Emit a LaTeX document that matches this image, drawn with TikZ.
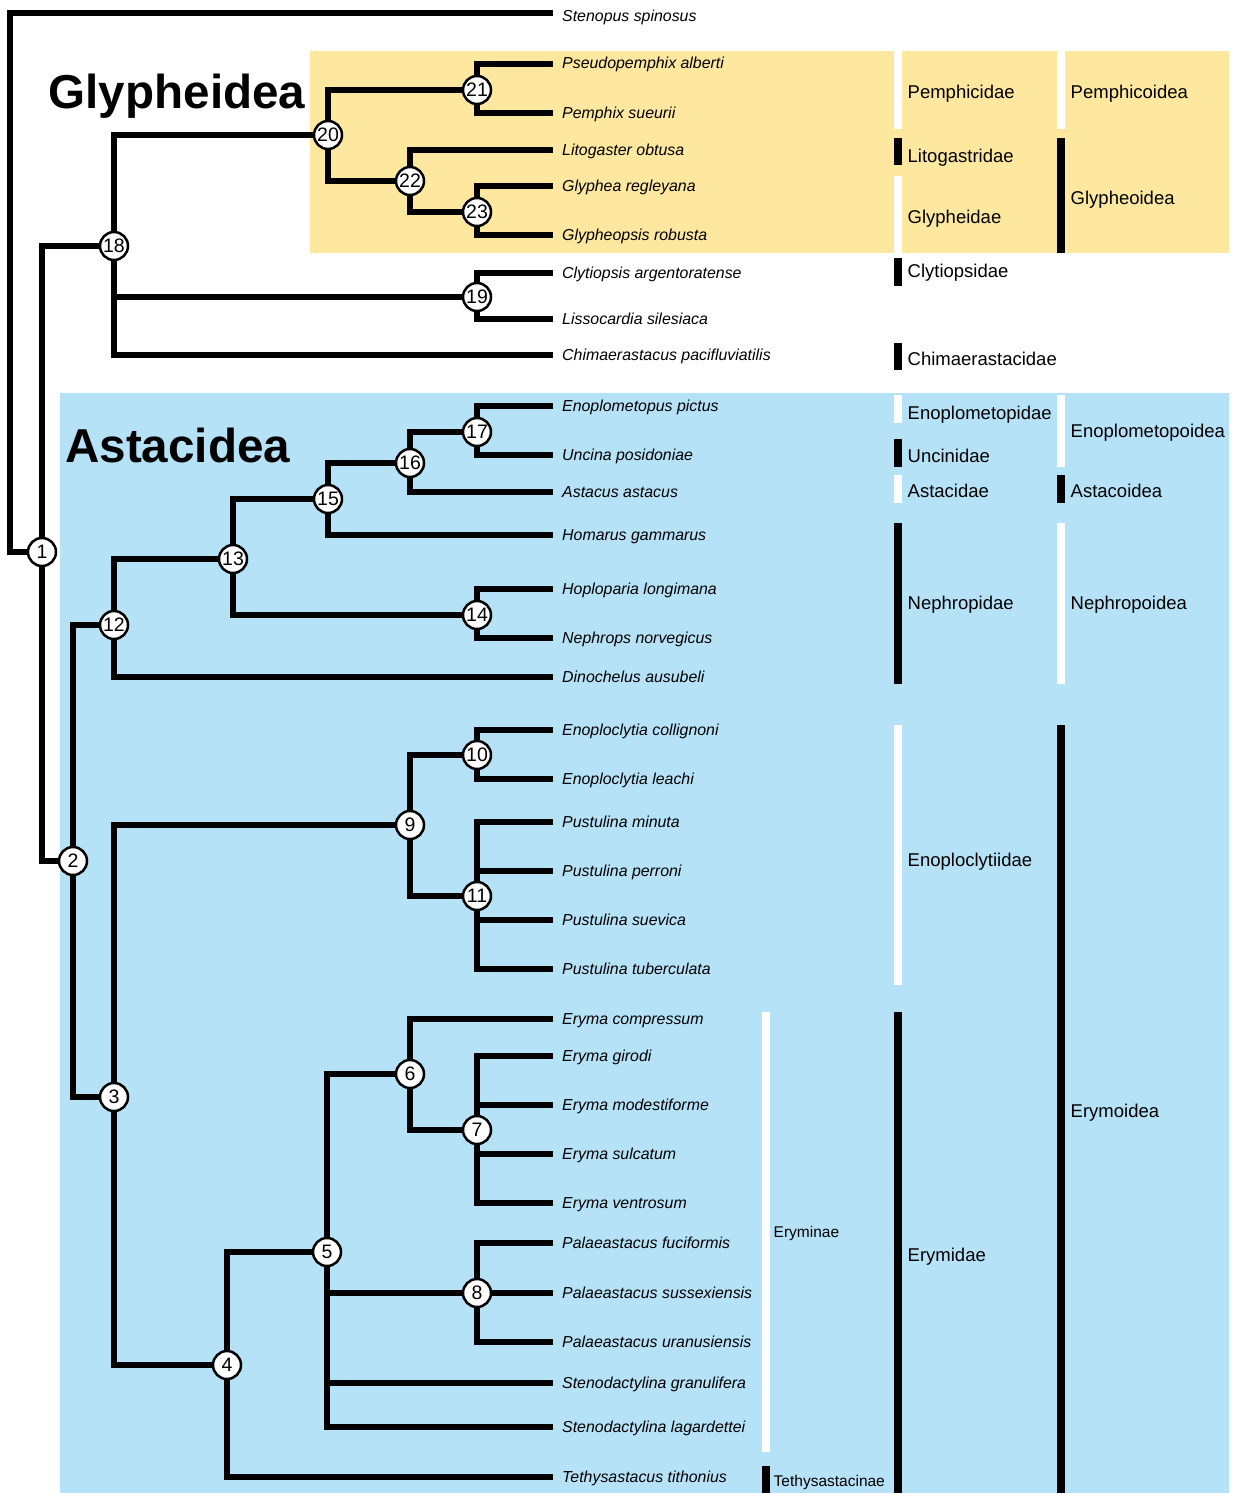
\documentclass[tikz,border=0pt]{standalone}
\usepackage{fontspec}
\setmainfont{Liberation Sans}
\definecolor{yel}{HTML}{FEE79F}
\definecolor{blu}{HTML}{B6E2F7}
\begin{document}
\begin{tikzpicture}[x=1pt,y=-1pt,
  br/.style={line width=5.5pt,line join=miter,line cap=butt},
  circ/.style={circle,draw,fill=white,line width=2.5pt,minimum size=28pt,inner sep=0pt,font=\fontsize{19.5}{19.5}\selectfont},
  taxon/.style={anchor=base west,inner sep=0pt,font=\fontsize{15.9}{16}\selectfont\itshape},
  grp/.style={anchor=base west,inner sep=0pt,font=\fontsize{18.5}{18.5}\selectfont},
  sgrp/.style={anchor=base west,inner sep=0pt,font=\fontsize{15.5}{16}\selectfont},
  ttl/.style={anchor=base west,inner sep=0pt,font=\fontsize{47.6}{47.6}\selectfont\bfseries},
  wbar/.style={fill=white},
  kbar/.style={fill=black}]

\useasboundingbox (0,0) rectangle (1233,1493);
\fill[white] (0,0) rectangle (1233,1493);
\fill[yel] (310,51) rectangle (1229,253);
\fill[blu] (60,393) rectangle (1229,1493);

% titles
\node[ttl] (tGly) at (48.5,109) {Glypheidea};
\node[ttl] (tAst) at (65,462) {Astacidea};

% branch points
\coordinate (c1) at (42,552);
\coordinate (c2) at (73,861);
\coordinate (c3) at (114,1097);
\coordinate (c4) at (227,1365);
\coordinate (c5) at (327,1252);
\coordinate (c6) at (410,1074);
\coordinate (c7) at (477,1130);
\coordinate (c8) at (477,1293);
\coordinate (c9) at (410,825);
\coordinate (c10) at (477,755);
\coordinate (c11) at (477,896);
\coordinate (c12) at (114,625);
\coordinate (c13) at (233,559);
\coordinate (c14) at (477,615);
\coordinate (c15) at (328,499);
\coordinate (c16) at (410,463);
\coordinate (c17) at (477,432);
\coordinate (c18) at (114,246);
\coordinate (c19) at (477,297);
\coordinate (c20) at (328,135);
\coordinate (c21) at (477,90);
\coordinate (c22) at (410,181);
\coordinate (c23) at (477,212);
\coordinate (root) at (10,552);

% leaves and taxon labels
\coordinate (Lsteno) at (553,13);
\node[taxon] (Tsteno) at (562,21.5) {Stenopus spinosus};
\foreach \n/\yy/\t in {
  pseu/64/Pseudopemphix alberti,
  pemph/113/Pemphix sueurii,
  lito/150/Litogaster obtusa,
  glyph/186/Glyphea regleyana,
  glop/235/Glypheopsis robusta,
  clyt/273/Clytiopsis argentoratense,
  liss/319/Lissocardia silesiaca,
  chim/355/Chimaerastacus pacifluviatilis,
  enop/406/Enoplometopus pictus,
  unc/455/Uncina posidoniae,
  ast/492/Astacus astacus,
  hom/535/Homarus gammarus,
  hop/589/Hoploparia longimana,
  neph/638/Nephrops norvegicus,
  dino/677/Dinochelus ausubeli,
  encol/730/Enoploclytia collignoni,
  enlea/779/Enoploclytia leachi,
  pmin/822/Pustulina minuta,
  pper/871/Pustulina perroni,
  psue/920/Pustulina suevica,
  ptub/969/Pustulina tuberculata,
  ecomp/1019/Eryma compressum,
  egir/1056/Eryma girodi,
  emod/1105/Eryma modestiforme,
  esul/1154/Eryma sulcatum,
  even/1203/Eryma ventrosum,
  pfuc/1243/Palaeastacus fuciformis,
  psus/1293/Palaeastacus sussexiensis,
  pura/1342/Palaeastacus uranusiensis,
  sgra/1383/Stenodactylina granulifera,
  slag/1427/Stenodactylina lagardettei,
  teth/1477/Tethysastacus tithonius}{
  \coordinate (L\n) at (553,\yy);
  \node[taxon] (T\n) at (562,\yy+5) {\t};
}

% branches
\draw[br] (c1) -- (root) |- (Lsteno);
\foreach \p/\c in {c1/c18, c1/c2,
  c18/c20, c18/c19, c18/Lchim,
  c20/c21, c20/c22,
  c21/Lpseu, c21/Lpemph,
  c22/Llito, c22/c23,
  c23/Lglyph, c23/Lglop,
  c19/Lclyt, c19/Lliss,
  c2/c12, c2/c3,
  c12/c13, c12/Ldino,
  c13/c15, c13/c14,
  c15/c16, c15/Lhom,
  c16/c17, c16/Last,
  c17/Lenop, c17/Lunc,
  c14/Lhop, c14/Lneph,
  c3/c9, c3/c4,
  c9/c10, c9/c11,
  c10/Lencol, c10/Lenlea,
  c11/Lpmin, c11/Lpper, c11/Lpsue, c11/Lptub,
  c4/c5, c4/Lteth,
  c5/c6, c5/c8, c5/Lsgra, c5/Lslag,
  c6/Lecomp, c6/c7,
  c7/Legir, c7/Lemod, c7/Lesul, c7/Leven,
  c8/Lpfuc, c8/Lpsus, c8/Lpura}{
  \draw[br] (\p) |- (\c);
}

% numbered nodes
\foreach \i in {1,...,23}{
  \node[circ] (n\i) at (c\i) {\i};
}

% family bars (column A)
\fill[wbar] (894,51) rectangle (902,129);
\fill[kbar] (894,138) rectangle (902,165);
\fill[wbar] (894,176) rectangle (902,253);
\fill[kbar] (894,258) rectangle (902,286);
\fill[kbar] (894,343) rectangle (902,370);
\fill[wbar] (894,395) rectangle (902,423);
\fill[kbar] (894,439) rectangle (902,467);
\fill[wbar] (894,475) rectangle (902,503);
\fill[kbar] (894,523) rectangle (902,684);
\fill[wbar] (894,725) rectangle (902,985);
\fill[kbar] (894,1012) rectangle (902,1493);
% superfamily bars (column B)
\fill[wbar] (1057,51) rectangle (1065,129);
\fill[kbar] (1057,138) rectangle (1065,253);
\fill[wbar] (1057,395) rectangle (1065,467);
\fill[kbar] (1057,475) rectangle (1065,503);
\fill[wbar] (1057,523) rectangle (1065,684);
\fill[kbar] (1057,725) rectangle (1065,1493);
% subfamily bars (column C)
\fill[wbar] (762,1012) rectangle (770,1452);
\fill[kbar] (762,1466) rectangle (770,1493);

% family labels
\node[grp] (fPem) at (907.5,99) {Pemphicidae};
\node[grp] (fLit) at (907.5,162) {Litogastridae};
\node[grp] (fGly) at (907.5,223.5) {Glypheidae};
\node[grp] (fCly) at (907.5,277) {Clytiopsidae};
\node[grp] (fChi) at (907.5,365) {Chimaerastacidae};
\node[grp] (fEno) at (907.5,419) {Enoplometopidae};
\node[grp] (fUnc) at (907.5,462.5) {Uncinidae};
\node[grp] (fAst) at (907.5,497) {Astacidae};
\node[grp] (fNep) at (907.5,609) {Nephropidae};
\node[grp] (fEcl) at (907.5,866) {Enoploclytiidae};
\node[grp] (fEry) at (907.5,1261.5) {Erymidae};
% superfamily labels
\node[grp] (sPem) at (1070.5,99) {Pemphicoidea};
\node[grp] (sGly) at (1070.5,204) {Glypheoidea};
\node[grp] (sEno) at (1070.5,437.5) {Enoplometopoidea};
\node[grp] (sAst) at (1070.5,497) {Astacoidea};
\node[grp] (sNep) at (1070.5,609) {Nephropoidea};
\node[grp] (sEry) at (1070.5,1117) {Erymoidea};
% subfamily labels
\node[sgrp] (uEry) at (773.5,1237) {Eryminae};
\node[sgrp] (uTet) at (773.5,1486) {Tethysastacinae};
\end{tikzpicture}
\end{document}
